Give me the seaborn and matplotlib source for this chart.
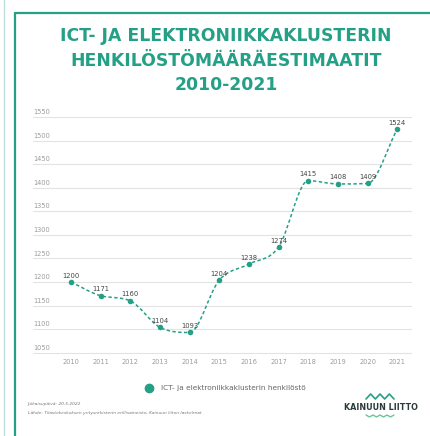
import numpy as np
import pandas as pd
import matplotlib
matplotlib.use("Agg")
import matplotlib.pyplot as plt
from matplotlib.path import Path
from matplotlib.patches import PathPatch
from matplotlib.lines import Line2D
import seaborn as sns

# data
years = [2010, 2011, 2012, 2013, 2014, 2015, 2016, 2017, 2018, 2019, 2020, 2021]
staff = [1200, 1171, 1160, 1104, 1093, 1204, 1238, 1274, 1415, 1408, 1409, 1524]
y_ticks = [1050, 1100, 1150, 1200, 1250, 1300, 1350, 1400, 1450, 1500, 1550]
series_name = "ICT- ja elektroniikkaklusterin henkilöstö"
title_lines = ["ICT- JA ELEKTRONIIKKAKLUSTERIN", "HENKILÖSTÖMÄÄRÄESTIMAATIT", "2010-2021"]

teal = "#24a086"
sns.set_theme(style="white")
plt.rcParams['font.family'] = ['DejaVu Sans']

df = pd.DataFrame({"idx": range(len(years)), "year": years, "staff": staff})

fig = plt.figure(figsize=(4.30, 4.36), dpi=100)
ax = fig.add_axes([33 / 430, 0.1855, 379 / 430, 0.557])
ax.set_xlim(-1.28, 11.5)
ax.set_ylim(1045, 1560)

# grid lines with labels sitting on them
for t in y_ticks:
    ax.axhline(t, color="#e3e3e3", lw=0.8, zorder=0)
    ax.text(0.0, t + 4, str(t), transform=ax.get_yaxis_transform(), ha="left", va="bottom",
            fontsize=4.8, color="#9c9c9c")

# monotone cubic curve (bezier segments) through the points
x = df["idx"].to_numpy(dtype=float)
y = df["staff"].to_numpy(dtype=float)
n = len(x)
d = np.diff(y) / np.diff(x)
m = np.zeros(n)
m[0], m[-1] = d[0], d[-1]
for k in range(1, n - 1):
    m[k] = 0 if d[k - 1] * d[k] <= 0 else (d[k - 1] + d[k]) / 2
for k in range(n - 1):
    if d[k] == 0:
        m[k] = m[k + 1] = 0
        continue
    a, b = m[k] / d[k], m[k + 1] / d[k]
    s = a * a + b * b
    if s > 9:
        tau = 3 / np.sqrt(s)
        m[k], m[k + 1] = tau * a * d[k], tau * b * d[k]
verts = [(x[0], y[0])]
codes = [Path.MOVETO]
for k in range(n - 1):
    dx = (x[k + 1] - x[k]) / 3
    verts += [(x[k] + dx, y[k] + m[k] * dx), (x[k + 1] - dx, y[k + 1] - m[k + 1] * dx),
              (x[k + 1], y[k + 1])]
    codes += [Path.CURVE4] * 3
patch = PathPatch(Path(verts, codes), facecolor="none", edgecolor=teal, lw=1.1,
                  linestyle=(0, (2.2, 1.6)), zorder=2)
ax.add_patch(patch)

sns.scatterplot(data=df, x="idx", y="staff", ax=ax, color=teal, s=16, edgecolor=teal,
                linewidth=0, zorder=3, legend=False)

for i, v in zip(df["idx"], df["staff"]):
    ax.annotate(str(v), (i, v), xytext=(0, 2.5), textcoords="offset points",
                ha="center", va="bottom", fontsize=4.9, color="#444444")

ax.set_xticks(df["idx"])
ax.set_xticklabels([str(y) for y in years], fontsize=4.8, color="#9c9c9c")
ax.set_yticks([])
ax.tick_params(axis="x", length=0, pad=3)
ax.set_xlabel("")
ax.set_ylabel("")
for s in ax.spines.values():
    s.set_visible(False)

# legend
handle = Line2D([], [], marker="o", linestyle="none", markersize=6, color=teal)
fig.legend([handle], [series_name], loc="center", bbox_to_anchor=(224 / 430, 1 - 388 / 436),
           frameon=False, fontsize=5.3, labelcolor="#666666", handletextpad=0.6)

# title
for k, line in enumerate(title_lines):
    fig.text(226 / 430, 1 - (36 + k * 24.5) / 436, line, ha="center", va="center",
             fontsize=12.4, fontweight="bold", color=teal)

# frame decoration
fig.add_artist(Line2D([4 / 430, 4 / 430], [0, 1], color="#b9ddd5", lw=0.9))
fig.add_artist(Line2D([15 / 430, 15 / 430], [0, 1 - 13 / 436], color=teal, lw=1.6))
fig.add_artist(Line2D([15 / 430, 1], [1 - 13 / 436, 1 - 13 / 436], color=teal, lw=1.6))

# footer
fig.text(28 / 430, 1 - 404 / 436, "Julkaisupäivä: 20.5.2022", fontsize=3.2, color="#777777",
         style="italic", va="center")
fig.text(28 / 430, 1 - 413 / 436,
         "Lähde: Tilastokeskuksen yritysrekisterin erillisaineisto, Kainuun liiton laskelmat",
         fontsize=3.2, color="#777777", style="italic", va="center")

# logo
fig.text(381 / 430, 1 - 407 / 436, "KAINUUN LIITTO", ha="center", va="center",
         fontsize=5.8, fontweight="bold", color="#2b3a3a")
zx = np.linspace(366, 394, 7) / 430
fig.add_artist(Line2D(zx, 1 - np.array([399, 394, 399, 394, 399, 394, 399]) / 436,
                      color=teal, lw=1.2))
wx = np.linspace(366, 394, 9) / 430
fig.add_artist(Line2D(wx, 1 - np.array([415, 417, 415, 417, 415, 417, 415, 417, 415]) / 436,
                      color="#6cc49a", lw=1.0))

fig.savefig("out.png", dpi=100)
